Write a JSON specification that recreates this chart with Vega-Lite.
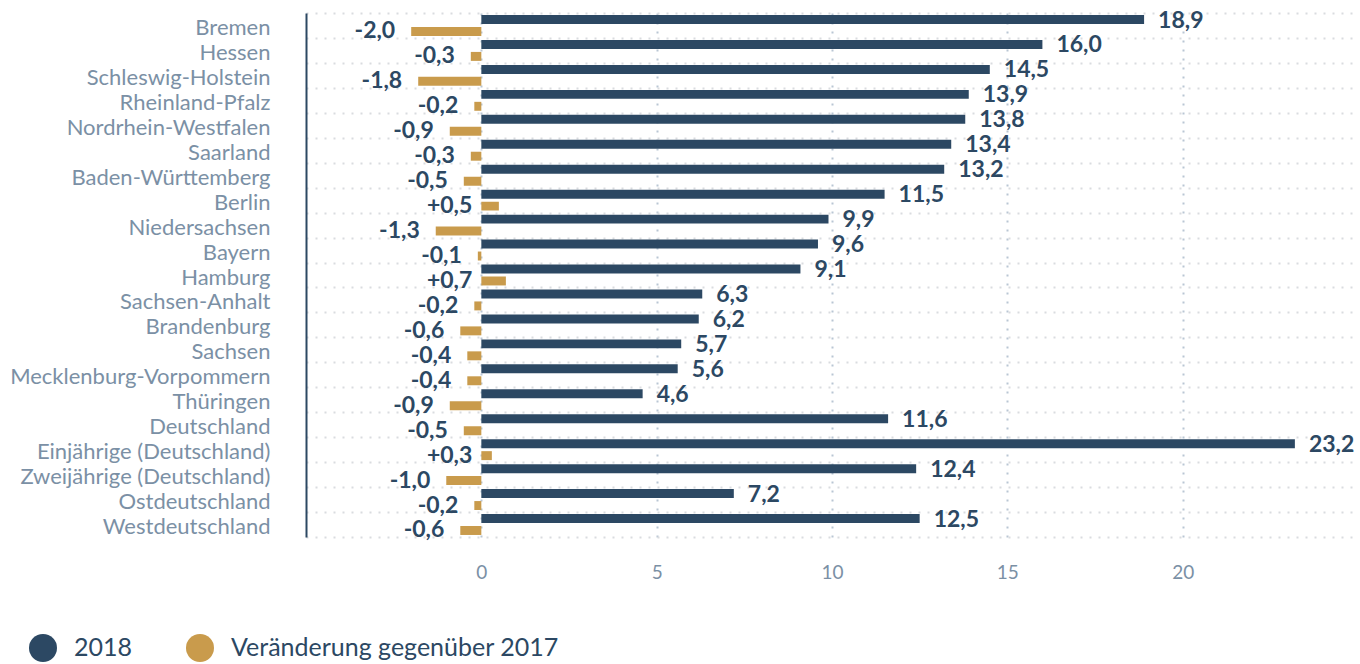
{
  "$schema": "https://vega.github.io/schema/vega-lite/v6.json",
  "width": 1052,
  "height": 524,
  "autosize": {"type": "none"},
  "padding": {"left": 306, "top": 13, "right": 2, "bottom": 127},
  "config": {
    "font": "Lato",
    "view": {"stroke": null},
    "locale": {"number": {"decimal": ",", "thousands": ".", "grouping": [3], "currency": ["", " €"], "minus": "-"}}
  },
  "data": {"values": [
    {"land": "Bremen", "series": "2018", "value": 18.9},
    {"land": "Bremen", "series": "Veränderung gegenüber 2017", "value": -2.0},
    {"land": "Hessen", "series": "2018", "value": 16.0},
    {"land": "Hessen", "series": "Veränderung gegenüber 2017", "value": -0.3},
    {"land": "Schleswig-Holstein", "series": "2018", "value": 14.5},
    {"land": "Schleswig-Holstein", "series": "Veränderung gegenüber 2017", "value": -1.8},
    {"land": "Rheinland-Pfalz", "series": "2018", "value": 13.9},
    {"land": "Rheinland-Pfalz", "series": "Veränderung gegenüber 2017", "value": -0.2},
    {"land": "Nordrhein-Westfalen", "series": "2018", "value": 13.8},
    {"land": "Nordrhein-Westfalen", "series": "Veränderung gegenüber 2017", "value": -0.9},
    {"land": "Saarland", "series": "2018", "value": 13.4},
    {"land": "Saarland", "series": "Veränderung gegenüber 2017", "value": -0.3},
    {"land": "Baden-Württemberg", "series": "2018", "value": 13.2},
    {"land": "Baden-Württemberg", "series": "Veränderung gegenüber 2017", "value": -0.5},
    {"land": "Berlin", "series": "2018", "value": 11.5},
    {"land": "Berlin", "series": "Veränderung gegenüber 2017", "value": 0.5},
    {"land": "Niedersachsen", "series": "2018", "value": 9.9},
    {"land": "Niedersachsen", "series": "Veränderung gegenüber 2017", "value": -1.3},
    {"land": "Bayern", "series": "2018", "value": 9.6},
    {"land": "Bayern", "series": "Veränderung gegenüber 2017", "value": -0.1},
    {"land": "Hamburg", "series": "2018", "value": 9.1},
    {"land": "Hamburg", "series": "Veränderung gegenüber 2017", "value": 0.7},
    {"land": "Sachsen-Anhalt", "series": "2018", "value": 6.3},
    {"land": "Sachsen-Anhalt", "series": "Veränderung gegenüber 2017", "value": -0.2},
    {"land": "Brandenburg", "series": "2018", "value": 6.2},
    {"land": "Brandenburg", "series": "Veränderung gegenüber 2017", "value": -0.6},
    {"land": "Sachsen", "series": "2018", "value": 5.7},
    {"land": "Sachsen", "series": "Veränderung gegenüber 2017", "value": -0.4},
    {"land": "Mecklenburg-Vorpommern", "series": "2018", "value": 5.6},
    {"land": "Mecklenburg-Vorpommern", "series": "Veränderung gegenüber 2017", "value": -0.4},
    {"land": "Thüringen", "series": "2018", "value": 4.6},
    {"land": "Thüringen", "series": "Veränderung gegenüber 2017", "value": -0.9},
    {"land": "Deutschland", "series": "2018", "value": 11.6},
    {"land": "Deutschland", "series": "Veränderung gegenüber 2017", "value": -0.5},
    {"land": "Einjährige (Deutschland)", "series": "2018", "value": 23.2},
    {"land": "Einjährige (Deutschland)", "series": "Veränderung gegenüber 2017", "value": 0.3},
    {"land": "Zweijährige (Deutschland)", "series": "2018", "value": 12.4},
    {"land": "Zweijährige (Deutschland)", "series": "Veränderung gegenüber 2017", "value": -1.0},
    {"land": "Ostdeutschland", "series": "2018", "value": 7.2},
    {"land": "Ostdeutschland", "series": "Veränderung gegenüber 2017", "value": -0.2},
    {"land": "Westdeutschland", "series": "2018", "value": 12.5},
    {"land": "Westdeutschland", "series": "Veränderung gegenüber 2017", "value": -0.6}
  ]},
  "encoding": {
    "y": {
      "field": "land", "type": "nominal", "sort": null,
      "scale": {"paddingInner": 0, "paddingOuter": 0},
      "axis": {
        "title": null, "ticks": false, "domain": true, "domainColor": "#2c4863", "domainWidth": 2,
        "labelFontSize": 22, "labelColor": "#7b90a5", "labelPadding": 36, "labelLimit": 320, "labelOffset": 2,
        "grid": true, "tickBand": "extent", "gridColor": "#d9dcdf", "gridDash": [2, 7], "gridWidth": 2
      }
    },
    "yOffset": {
      "field": "series", "type": "nominal",
      "scale": {"domain": ["2018", "Veränderung gegenüber 2017"], "paddingInner": 0.25, "paddingOuter": 0.17}
    },
    "x": {
      "field": "value", "type": "quantitative",
      "scale": {"domain": [-5, 25], "nice": false, "zero": false},
      "axis": {
        "title": null, "values": [0, 5, 10, 15, 20], "domain": false, "ticks": false,
        "labelPadding": 26, "labelFontSize": 19, "labelColor": "#7b90a5",
        "grid": true, "gridColor": "#b9c6d4", "gridDash": [2, 7], "gridWidth": 2
      }
    }
  },
  "layer": [
    {
      "mark": {"type": "bar"},
      "encoding": {
        "color": {
          "field": "series", "type": "nominal",
          "scale": {"domain": ["2018", "Veränderung gegenüber 2017"], "range": ["#2c4863", "#c99b4c"]},
          "legend": {
            "title": null, "orient": "none", "direction": "horizontal",
            "legendX": -277, "legendY": 621,
            "symbolType": "circle", "symbolSize": 784, "symbolStrokeWidth": 0,
            "labelFontSize": 25, "labelColor": "#2c4863", "labelOffset": 17,
            "columnPadding": 53, "labelLimit": 500
          }
        }
      }
    },
    {
      "transform": [{"filter": "datum.series === '2018'"}],
      "mark": {"type": "text", "align": "left", "baseline": "middle", "dx": 14, "dy": 1, "fontSize": 23, "fontWeight": "bold", "color": "#2c4863"},
      "encoding": {"text": {"field": "value", "type": "quantitative", "format": ".1f"}}
    },
    {
      "transform": [{"filter": "datum.series !== '2018' && datum.value < 0"}],
      "mark": {"type": "text", "align": "right", "baseline": "middle", "dx": -16, "dy": 0, "fontSize": 23, "fontWeight": "bold", "color": "#2c4863"},
      "encoding": {"text": {"field": "value", "type": "quantitative", "format": "+.1f"}}
    },
    {
      "transform": [{"filter": "datum.series !== '2018' && datum.value >= 0"}],
      "mark": {"type": "text", "align": "right", "baseline": "middle", "dx": -9, "dy": 0, "fontSize": 23, "fontWeight": "bold", "color": "#2c4863"},
      "encoding": {
        "x": {"datum": 0, "type": "quantitative"},
        "text": {"field": "value", "type": "quantitative", "format": "+.1f"}
      }
    }
  ]
}
